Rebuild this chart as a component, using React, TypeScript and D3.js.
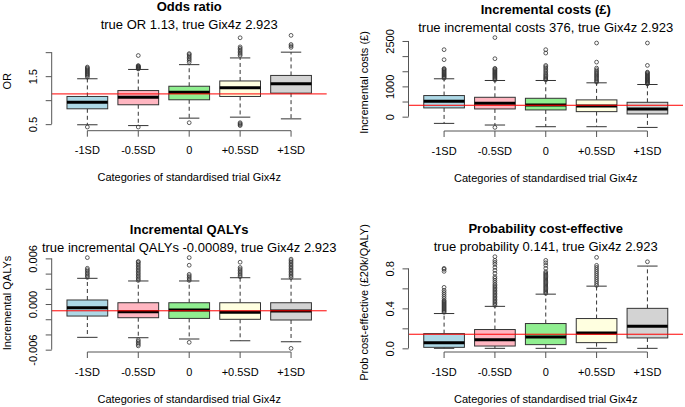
import { useEffect, useRef } from "react";
import * as d3 from "d3";

const groups = ["-1SD", "-0.5SD", "0", "+0.5SD", "+1SD"];
const boxFills = ["#ADD8E6", "#FFB6C1", "#90EE90", "#FFFFE0", "#D3D3D3"];
const xTitle = "Categories of standardised trial Gix4z";

// each row: [lower whisker, Q1, median, Q3, upper whisker]
const orStats = [
  [0.487, 0.82, 0.958, 1.077, 1.446],
  [0.47, 0.904, 1.063, 1.2, 1.64],
  [0.625, 1.008, 1.167, 1.29, 1.74],
  [0.646, 1.077, 1.26, 1.4, 1.88],
  [0.61, 1.146, 1.34, 1.515, 2.0],
];
const orOutliers = [
  [0.44, 1.48, 1.51, 1.53, 1.55, 1.57, 1.59, 1.61, 1.63, 1.65, 1.67, 1.69],
  [0.44, 1.65, 1.66, 1.67, 1.68, 1.69, 1.7, 1.71, 1.72, 1.93],
  [0.53, 1.79, 1.83, 1.86, 1.89, 1.92, 1.95, 1.97],
  [0.47, 0.49, 0.51, 0.53, 1.93, 1.96, 1.99, 2.02, 2.05, 2.08, 2.11, 2.3],
  [2.1, 2.13, 2.16, 2.35],
];
const orTicks = [0.5, 1, 1.5, 2];
const orTickLabels = ["0.5", "", "1.5", ""];
const orTrue = 1.13;

const costStats = [
  [-222, 289, 508, 697, 1251],
  [-276, 255, 442, 640, 1195],
  [-332, 222, 388, 607, 1195],
  [-332, 166, 355, 554, 1118],
  [-355, 90, 255, 475, 1062],
];
const costOutliers = [
  [1270, 1300, 1330, 1360, 1390, 1420, 1450, 1480, 1510, 1540, 1570, 1590, 1882, 2213],
  [-355, 1215, 1245, 1275, 1305, 1335, 1365, 1395, 1425, 1455, 1485, 1515, 1545, 1575, 1595, 1915, 2612],
  [1215, 1245, 1280, 1320, 1360, 1400, 1450, 1500, 1550, 1600, 1650, 1693, 2101, 2213],
  [1140, 1180, 1220, 1260, 1300, 1340, 1380, 1420, 1460, 1500, 1550, 1604, 1802, 2433],
  [1080, 1105, 1130, 1155, 1180, 1205, 1230, 1255, 1280, 1305, 1330, 1360, 1390, 1420, 1450, 1470, 1693, 2433],
];
const costTicks = [0, 500, 1000, 1500, 2000, 2500];
const costTickLabels = ["0", "", "1000", "", "", "2500"];
const costTrue = 376;

const qalyStats = [
  [-0.00438, -0.00158, -0.00048, 0.00053, 0.00338],
  [-0.00443, -0.0018, -0.00101, 0.00017, 0.00303],
  [-0.0046, -0.00189, -0.00079, 0.00017, 0.00303],
  [-0.00483, -0.00201, -0.00109, 0.00017, 0.00346],
  [-0.00496, -0.0021, -0.00092, 0.00017, 0.00329],
];
const qalyOutliers = [
  [0.0035, 0.0037, 0.0039, 0.0041, 0.0043, 0.0045, 0.0047, 0.0061],
  [-0.0055, -0.0053, -0.0051, -0.0049, -0.0047, 0.0031, 0.0033, 0.0035, 0.0037, 0.0039, 0.0041, 0.0043, 0.0045, 0.0047, 0.0049, 0.0051, 0.0053, 0.0055, 0.0056],
  [-0.00504, 0.0031, 0.0033, 0.0035, 0.0037, 0.0039, 0.0051, 0.0061],
  [0.0036, 0.0038, 0.004, 0.0042, 0.0044, 0.0046, 0.0048, 0.0055],
  [-0.00583, 0.0035, 0.0037, 0.0039, 0.0041, 0.0043, 0.0045, 0.0047, 0.0049, 0.0051, 0.0053, 0.0055, 0.0057, 0.0059],
];
const qalyTicks = [-0.006, -0.004, -0.002, 0, 0.002, 0.004, 0.006];
const qalyTickLabels = ["-0.006", "", "", "0.000", "", "", "0.006"];
const qalyTrue = -0.00089;

const probStats = [
  [0, 0.01, 0.057, 0.147, 0.348],
  [0, 0.023, 0.087, 0.188, 0.42],
  [0, 0.037, 0.113, 0.248, 0.542],
  [0, 0.057, 0.154, 0.298, 0.622],
  [0, 0.104, 0.221, 0.4, 0.823],
];
const probOutliers = [
  [0.36, 0.37, 0.38, 0.39, 0.4, 0.41, 0.42, 0.43, 0.44, 0.45, 0.46, 0.47, 0.48, 0.5, 0.52, 0.54, 0.56, 0.58, 0.61, 0.77, 0.79, 0.8],
  [0.43, 0.445, 0.46, 0.475, 0.49, 0.505, 0.52, 0.535, 0.55, 0.565, 0.58, 0.595, 0.61, 0.625, 0.64, 0.66, 0.68, 0.7, 0.716, 0.75, 0.78, 0.81, 0.84, 0.86, 0.88, 0.917],
  [0.55, 0.562, 0.574, 0.586, 0.598, 0.61, 0.622, 0.634, 0.646, 0.658, 0.67, 0.682, 0.694, 0.706, 0.718, 0.73, 0.742, 0.754, 0.766, 0.8, 0.83, 0.856, 0.88],
  [0.63, 0.65, 0.67, 0.69, 0.71, 0.73, 0.75, 0.77, 0.79, 0.81, 0.83, 0.91],
  [0.866],
];
const probTicks = [0, 0.2, 0.4, 0.6, 0.8];
const probTickLabels = ["0.0", "", "0.4", "", "0.8"];
const probTrue = 0.141;

const panels = [
  {
    title: "Odds ratio",
    subtitle: "true OR 1.13, true Gix4z 2.923",
    yLabel: "OR",
    stats: orStats, outliers: orOutliers, ticks: orTicks, tickLabels: orTickLabels, trueValue: orTrue,
    left: 51.7, right: 326.7, top: 31.7, bottom: 130.7,
  },
  {
    title: "Incremental costs (£)",
    subtitle: "true incremental costs 376, true Gix4z 2.923",
    yLabel: "Incremental costs (£)",
    stats: costStats, outliers: costOutliers, ticks: costTicks, tickLabels: costTickLabels, trueValue: costTrue,
    left: 408.5, right: 683, top: 34, bottom: 131,
  },
  {
    title: "Incremental QALYs",
    subtitle: "true incremental QALYs -0.00089, true Gix4z 2.923",
    yLabel: "Incremental QALYs",
    stats: qalyStats, outliers: qalyOutliers, ticks: qalyTicks, tickLabels: qalyTickLabels, trueValue: qalyTrue,
    left: 51.7, right: 326.7, top: 254, bottom: 352,
  },
  {
    title: "Probability cost-effective",
    subtitle: "true probability 0.141, true Gix4z 2.923",
    yLabel: "Prob cost-effective (£20k/QALY)",
    stats: probStats, outliers: probOutliers, ticks: probTicks, tickLabels: probTickLabels, trueValue: probTrue,
    left: 408.5, right: 683, top: 253, bottom: 352,
  },
];

const W = 685;
const H = 407;
const FONT = "'Liberation Sans', Arial, sans-serif";

export default function App() {
  const ref = useRef<SVGSVGElement | null>(null);

  useEffect(() => {
    if (!ref.current) return;
    const svg = d3.select(ref.current);
    svg.selectAll("*").remove();
    svg.append("rect").attr("width", W).attr("height", H).attr("fill", "#fff");

    panels.forEach((p) => {
      const g = svg.append("g").attr("font-family", FONT);

      // R-style range: data extent padded by 4%
      const all = [...p.stats.flat(), ...p.outliers.flat()];
      const lo = d3.min(all)!;
      const hi = d3.max(all)!;
      const pad = (hi - lo) * 0.04;

      const x = d3
        .scaleBand<string>()
        .domain(groups)
        .range([p.left, p.right])
        .paddingInner(0.2)
        .paddingOuter(0.3);
      const y = d3.scaleLinear().domain([lo - pad, hi + pad]).range([p.bottom, p.top]);
      const bw = x.bandwidth();
      const cx = (k: string) => x(k)! + bw / 2;

      // boxes
      groups.forEach((k, i) => {
        const [wLo, q1, med, q3, wHi] = p.stats[i];
        const c = cx(k);
        const bg = g.append("g");
        bg.append("line")
          .attr("x1", c).attr("x2", c).attr("y1", y(q3)).attr("y2", y(wHi))
          .attr("stroke", "#333").attr("stroke-dasharray", "4,3");
        bg.append("line")
          .attr("x1", c).attr("x2", c).attr("y1", y(q1)).attr("y2", y(wLo))
          .attr("stroke", "#333").attr("stroke-dasharray", "4,3");
        [wLo, wHi].forEach((v) => {
          bg.append("line")
            .attr("x1", c - bw / 4).attr("x2", c + bw / 4).attr("y1", y(v)).attr("y2", y(v))
            .attr("stroke", "#333");
        });
        bg.append("rect")
          .attr("x", x(k)!).attr("y", y(q3)).attr("width", bw).attr("height", y(q1) - y(q3))
          .attr("fill", boxFills[i]).attr("stroke", "#333");
        bg.append("line")
          .attr("x1", x(k)!).attr("x2", x(k)! + bw).attr("y1", y(med)).attr("y2", y(med))
          .attr("stroke", "#000").attr("stroke-width", 3);
        bg.selectAll("circle")
          .data(p.outliers[i])
          .join("circle")
          .attr("cx", c).attr("cy", (d) => y(d)).attr("r", 1.9)
          .attr("fill", "none").attr("stroke", "#333").attr("stroke-width", 0.8);
      });

      // true value line
      g.append("line")
        .attr("x1", p.left).attr("x2", p.right)
        .attr("y1", y(p.trueValue)).attr("y2", y(p.trueValue))
        .attr("stroke", "#ff0000").attr("stroke-width", 1);

      // x axis
      const xAxis = g.append("g")
        .attr("transform", `translate(0,${p.bottom})`)
        .call(d3.axisBottom(x).tickSize(6).tickPadding(10))
        .attr("color", "#555");
      xAxis.select(".domain").remove();
      xAxis.append("line")
        .attr("x1", cx(groups[0])).attr("x2", cx(groups[groups.length - 1]))
        .attr("stroke", "#555");
      xAxis.selectAll("text").attr("fill", "#000").style("font-size", "11px").attr("font-family", FONT);

      // y axis
      const yAxis = g.append("g")
        .attr("transform", `translate(${p.left},0)`)
        .call(
          d3.axisLeft(y)
            .tickValues(p.ticks)
            .tickSize(6)
            .tickFormat((_d, i) => p.tickLabels[i]) as any
        )
        .attr("color", "#555");
      yAxis.select(".domain").remove();
      yAxis.append("line")
        .attr("y1", y(p.ticks[0])).attr("y2", y(p.ticks[p.ticks.length - 1]))
        .attr("stroke", "#555");
      yAxis.selectAll(".tick text")
        .attr("x", null).attr("dy", null)
        .attr("text-anchor", "middle")
        .attr("transform", "translate(-15,0) rotate(-90)")
        .attr("fill", "#000")
        .attr("font-family", FONT)
        .style("font-size", "11px");

      // titles
      const mid = (p.left + p.right) / 2;
      g.append("text")
        .attr("x", mid).attr("y", p.top - 20.3)
        .attr("text-anchor", "middle").attr("font-weight", "bold").attr("font-size", 13)
        .text(p.title);
      g.append("text")
        .attr("x", mid).attr("y", p.top - 2.5)
        .attr("text-anchor", "middle").attr("font-size", 13)
        .text(p.subtitle);
      g.append("text")
        .attr("x", mid).attr("y", p.bottom + 50.5)
        .attr("text-anchor", "middle").attr("font-size", 11)
        .text(xTitle);
      g.append("text")
        .attr("transform", `translate(${p.left - 41},${(p.top + p.bottom) / 2}) rotate(-90)`)
        .attr("text-anchor", "middle").attr("font-size", 11)
        .text(p.yLabel);
    });
  }, []);

  return (
    <svg
      ref={ref}
      width={W}
      height={H}
      style={{ position: "absolute", left: 0, top: 0, display: "block" }}
    />
  );
}
